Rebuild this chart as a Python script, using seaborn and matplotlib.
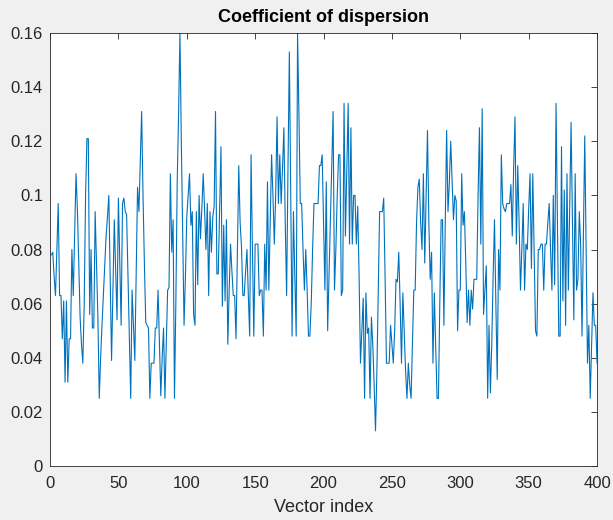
import numpy as np
import pandas as pd
import matplotlib
matplotlib.use("Agg")
import matplotlib.pyplot as plt
import seaborn as sns

# coefficient of dispersion per vector
cod_1_100 = [
    0.078, 0.079, 0.070, 0.063, 0.080, 0.097, 0.063, 0.063, 0.047, 0.061,
    0.031, 0.061, 0.031, 0.047, 0.047, 0.080, 0.063, 0.085, 0.108, 0.095,
    0.075, 0.055, 0.045, 0.038, 0.060, 0.100, 0.121, 0.121, 0.056, 0.080,
    0.051, 0.051, 0.094, 0.075, 0.055, 0.025, 0.040, 0.052, 0.063, 0.074,
    0.085, 0.092, 0.100, 0.070, 0.039, 0.065, 0.091, 0.072, 0.054, 0.099,
    0.075, 0.052, 0.097, 0.099, 0.094, 0.093, 0.070, 0.048, 0.025, 0.065,
    0.052, 0.039, 0.070, 0.103, 0.094, 0.112, 0.131, 0.100, 0.075, 0.053,
    0.052, 0.051, 0.025, 0.038, 0.038, 0.038, 0.051, 0.051, 0.065, 0.045,
    0.026, 0.040, 0.051, 0.025, 0.045, 0.065, 0.066, 0.108, 0.079, 0.091,
    0.025, 0.060, 0.105, 0.130, 0.160, 0.120, 0.085, 0.052, 0.070, 0.092,
]
cod_101_200 = [
    0.100, 0.108, 0.089, 0.094, 0.056, 0.052, 0.094, 0.067, 0.100, 0.084,
    0.095, 0.108, 0.095, 0.080, 0.097, 0.063, 0.094, 0.079, 0.092, 0.096,
    0.131, 0.071, 0.071, 0.095, 0.118, 0.059, 0.089, 0.061, 0.091, 0.045,
    0.065, 0.082, 0.072, 0.063, 0.063, 0.047, 0.080, 0.111, 0.090, 0.081,
    0.063, 0.063, 0.072, 0.080, 0.063, 0.048, 0.115, 0.080, 0.048, 0.082,
    0.082, 0.082, 0.063, 0.065, 0.065, 0.048, 0.082, 0.065, 0.105, 0.065,
    0.090, 0.115, 0.100, 0.082, 0.100, 0.129, 0.097, 0.115, 0.097, 0.110,
    0.125, 0.090, 0.063, 0.110, 0.153, 0.100, 0.048, 0.094, 0.070, 0.048,
    0.160, 0.130, 0.097, 0.097, 0.080, 0.065, 0.080, 0.065, 0.048, 0.048,
    0.060, 0.080, 0.097, 0.097, 0.097, 0.097, 0.111, 0.111, 0.115, 0.090,
]
cod_201_300 = [
    0.065, 0.105, 0.050, 0.070, 0.090, 0.110, 0.131, 0.065, 0.080, 0.100,
    0.115, 0.115, 0.063, 0.065, 0.134, 0.085, 0.110, 0.134, 0.082, 0.125,
    0.082, 0.100, 0.100, 0.082, 0.096, 0.070, 0.038, 0.050, 0.062, 0.025,
    0.064, 0.049, 0.051, 0.025, 0.055, 0.045, 0.030, 0.013, 0.035, 0.065,
    0.094, 0.094, 0.094, 0.099, 0.070, 0.038, 0.038, 0.038, 0.052, 0.045,
    0.038, 0.050, 0.069, 0.068, 0.079, 0.060, 0.038, 0.064, 0.050, 0.035,
    0.025, 0.038, 0.030, 0.025, 0.045, 0.065, 0.065, 0.090, 0.103, 0.106,
    0.090, 0.080, 0.108, 0.075, 0.100, 0.124, 0.090, 0.069, 0.079, 0.038,
    0.064, 0.045, 0.025, 0.025, 0.060, 0.091, 0.091, 0.052, 0.090, 0.124,
    0.094, 0.105, 0.120, 0.105, 0.091, 0.100, 0.098, 0.050, 0.065, 0.065,
]
cod_301_400 = [
    0.108, 0.089, 0.094, 0.075, 0.053, 0.065, 0.052, 0.065, 0.058, 0.069,
    0.069, 0.069, 0.100, 0.125, 0.082, 0.132, 0.056, 0.065, 0.074, 0.025,
    0.052, 0.027, 0.045, 0.070, 0.091, 0.060, 0.032, 0.080, 0.065, 0.115,
    0.097, 0.095, 0.094, 0.097, 0.097, 0.097, 0.104, 0.085, 0.110, 0.129,
    0.082, 0.111, 0.090, 0.065, 0.080, 0.097, 0.065, 0.082, 0.080, 0.095,
    0.108, 0.073, 0.108, 0.080, 0.050, 0.048, 0.080, 0.080, 0.082, 0.082,
    0.065, 0.082, 0.082, 0.090, 0.097, 0.080, 0.065, 0.100, 0.067, 0.134,
    0.090, 0.048, 0.048, 0.118, 0.061, 0.102, 0.052, 0.108, 0.065, 0.095,
    0.127, 0.090, 0.054, 0.108, 0.065, 0.069, 0.094, 0.082, 0.048, 0.085,
    0.122, 0.080, 0.038, 0.052, 0.025, 0.045, 0.064, 0.052, 0.052, 0.038,
]
x_ticks = [0, 50, 100, 150, 200, 250, 300, 350, 400]
y_ticks = [0, 0.02, 0.04, 0.06, 0.08, 0.1, 0.12, 0.14, 0.16]
y_tick_labels = ["0", "0.02", "0.04", "0.06", "0.08", "0.1", "0.12", "0.14", "0.16"]

cod = cod_1_100 + cod_101_200 + cod_201_300 + cod_301_400
df = pd.DataFrame({"index": np.arange(1, len(cod) + 1), "cod": cod})

sns.set_style("white")
plt.rcParams["font.family"] = ["Liberation Sans", "DejaVu Sans"]

fig = plt.figure(figsize=(6.13, 5.2), dpi=100, facecolor="#f0f0f0")
ax = fig.add_axes([0.0816, 0.1038, 0.8924, 0.8327])
sns.lineplot(data=df, x="index", y="cod", color="#0072BD", linewidth=0.8, ax=ax)

ax.set_xlim(0, 400)
ax.set_ylim(0, 0.16)
ax.set_xticks(x_ticks)
ax.set_yticks(y_ticks)
ax.set_yticklabels(y_tick_labels)
ax.tick_params(direction="in", length=4, width=0.6, colors="#262626",
               labelsize=12, top=True, right=True, pad=5)
ax.tick_params(axis="x", pad=7)
for s in ax.spines.values():
    s.set_color("#262626")
    s.set_linewidth(0.6)
ax.set_title("Coefficient of dispersion", fontsize=13, fontweight="bold",
             color="black", pad=8)
ax.set_xlabel("Vector index", fontsize=13, color="#262626", labelpad=6)
ax.set_ylabel("")

fig.savefig("out.png", dpi=100, facecolor=fig.get_facecolor())
